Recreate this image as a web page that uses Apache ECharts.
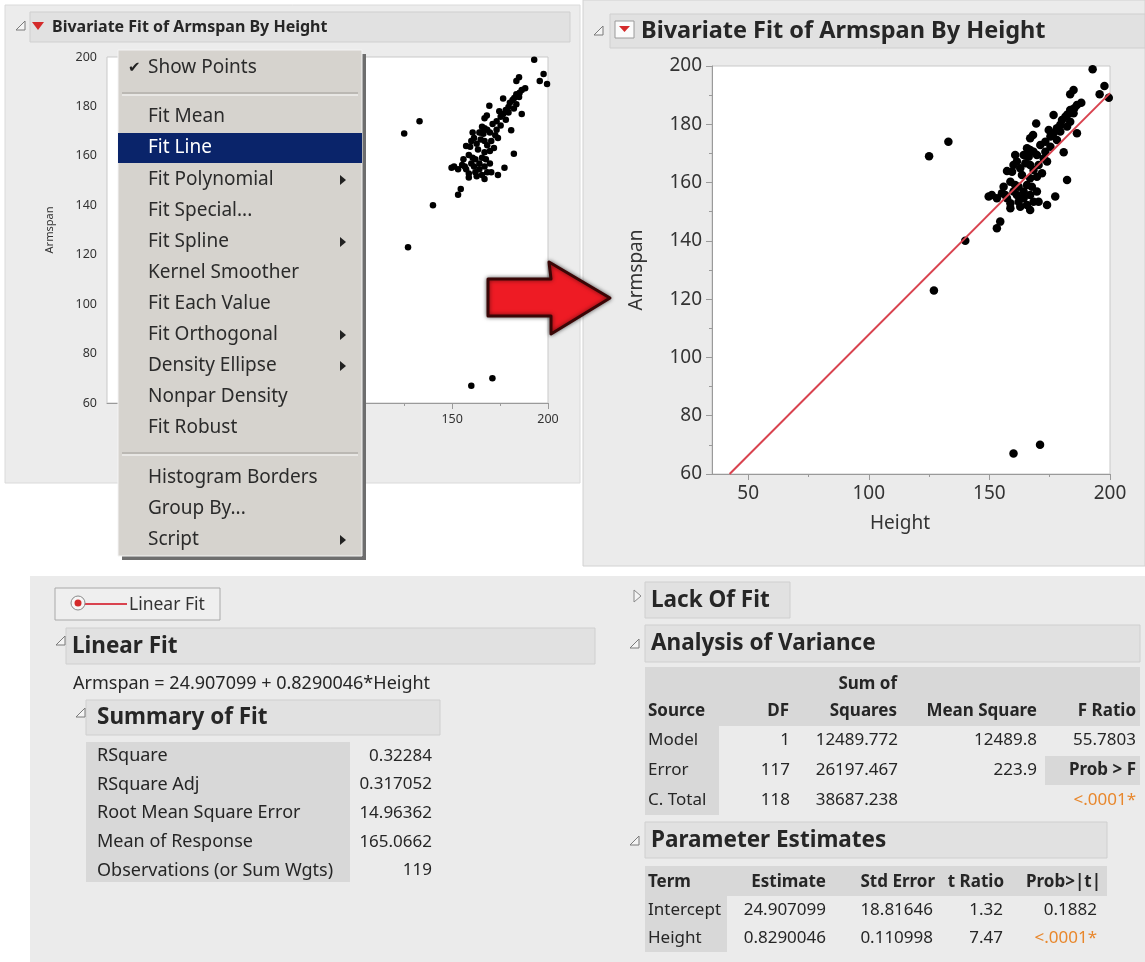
<!DOCTYPE html>
<html><head><meta charset="utf-8">
<script src="https://cdn.jsdelivr.net/npm/echarts@6/dist/echarts.min.js"></script>
<style>html,body{margin:0;padding:0;background:#fff}#c{width:1145px;height:962px}</style>
</head><body><div id="c"></div><script>
// ---- data ----
const heights = [125,133,127,140,160,171,
 192.8,184.9,183.5,197.7,195.7,199.5,188.1,185.2,182.4,176.6,183.5,179.4,169.4,176.6,168.1,186.3,173.2,165.6,171.1,180.8,
 161.4,166.3,173.9,157.3,162.8,171.8,182.2,158.7,165.6,151.0,155.2,161.4,169.7,177.3,158.7,162.8,166.9,173.9,154.5,153.1,
 160.0,164.2,166.9,168.3,169.7,163.5,166.9,160.7,155.9,164.2,166.9,168.3,160.0,162.1,158.7,165.6,170.4,157.3,153.1,149.7,
 175.3,178.0,180.1,181.5,184.9,186.3,182.2,174.6,166.9,164.9,168.3,170.4,173.2,175.3,178.0,
 159.4,164.9,162.1,167.6,164.2,156.6,169.7,172.5,160.7,166.9,179.4,183.5];
const armspans = [169,174,123,140,67,70,
 198.9,191.8,190.3,193.1,190.3,189.1,187.4,185.5,183.4,183.2,180.9,179.8,180.3,176.9,176.3,176.9,174.0,171.8,172.9,170.4,
 167.2,168.9,167.2,164.0,164.9,163.2,160.9,160.3,159.2,155.7,156.3,155.7,156.9,155.2,152.9,151.7,150.6,152.3,146.6,144.3,
 166.0,169.5,166.0,170.6,169.5,162.6,161.5,159.2,158.6,156.9,155.7,153.4,156.9,153.4,151.2,152.3,153.4,154.6,154.6,155.2,
 175.8,178.6,181.5,182.6,183.8,186.6,179.2,178.0,175.2,169.5,164.3,166.0,170.6,172.3,174.6,
 163.7,166.6,158.6,158.6,154.6,155.7,162.0,168.3,169.5,171.2,177.5,184.9];
const fitLineHeight = [42.3, 200];
const fitLineArmspan = [60, 190.7];
const rightXTicks = [50,100,150,200];
const rightXMinor = [75,125,175];
const leftXTicks = [150,200];
const leftXMinor = [0,25,50,75,100,125,175];

const menuItems = ['Show Points','Fit Mean','Fit Line','Fit Polynomial','Fit Special...','Fit Spline','Kernel Smoother','Fit Each Value','Fit Orthogonal','Density Ellipse','Nonpar Density','Fit Robust','Histogram Borders','Group By...','Script'];
const menuSubmenu = ['Fit Polynomial','Fit Spline','Fit Orthogonal','Density Ellipse','Script'];

const equationText = 'Armspan = 24.907099 + 0.8290046*Height';
const summaryLabels = ['RSquare','RSquare Adj','Root Mean Square Error','Mean of Response','Observations (or Sum Wgts)'];
const summaryValues = ['0.32284','0.317052','14.96362','165.0662','119'];

const anovaSource = ['Model','Error','C. Total'];
const anovaDF = ['1','117','118'];
const anovaSS = ['12489.772','26197.467','38687.238'];
const anovaMS = ['12489.8','223.9',''];
const anovaF = ['55.7803','Prob > F','<.0001*'];

const paramTerms = ['Intercept','Height'];
const paramEstimate = ['24.907099','0.8290046'];
const paramStdErr = ['18.81646','0.110998'];
const paramT = ['1.32','7.47'];
const paramProb = ['0.1882','<.0001*'];

// ---- helpers ----
const FONT = '"Noto Sans", "DejaVu Sans", sans-serif';
const G = [];
function rect(x,y,w,h,fill,stroke,z,extra){G.push(Object.assign({type:'rect',silent:true,z:(z==null?-10:z),shape:{x:x,y:y,width:w,height:h},style:{fill:fill,stroke:stroke||null,lineWidth:1}},extra||{}));}
function line(x1,y1,x2,y2,color,w,z){G.push({type:'line',silent:true,z:(z==null?-5:z),shape:{x1:x1,y1:y1,x2:x2,y2:y2},style:{stroke:color,lineWidth:w||1}});}
function poly(pts,fill,stroke,z,lw){G.push({type:'polygon',silent:true,z:(z==null?-5:z),shape:{points:pts},style:{fill:fill,stroke:stroke||null,lineWidth:lw||1}});}
function text(x,y,t,size,o){o=o||{};G.push({type:'text',silent:true,x:x,y:y,z:(o.z==null?-4:o.z),style:{text:t,font:(o.bold?'bold ':'')+size+'px '+(o.family||FONT),fill:o.color||'#262626',align:o.align||'left',verticalAlign:'middle',textAlign:o.align||'left',textVerticalAlign:'middle'}});}
function discOpen(x,y){poly([[x+7,y-6],[x+7,y+3],[x-2,y+3]],'#f4f4f4','#7a7a7a',-4);}
function discClosed(x,y){poly([[x-3,y-6],[x-3,y+6],[x+4,y]],'#f4f4f4','#8a8a8a',-4);}
const TS = 17;      // table text size
const HS = 22.5;    // header text size

// ---- panels ----
rect(5,5,575,478,'#ececec','#dadada');
rect(30,12,540,30,'#e1e1e1','#cfcfcf');
discOpen(18,27);
poly([[32,22],[44,22],[38,30]],'#d42a2a',null,-4);
text(52,27,'Bivariate Fit of Armspan By Height',16,{bold:true});

rect(583,0,562,566,'#ebebeb','#d2d2d2');
rect(610,14,535,34,'#e1e1e1','#cfcfcf');
discOpen(596,32);
rect(615,21,19,17,'#fbfbfb','#9a9a9a',-4);
poly([[619,26],[630,26],[624.5,32]],'#d42a2a',null,-3);
text(641,31,'Bivariate Fit of Armspan By Height',23.5,{bold:true});

rect(30,576,1115,386,'#ebebeb',null);

// legend box
rect(55,588,165,32,'#efefef','#a9a9a9',-8);
G.push({type:'circle',silent:true,z:-4,shape:{cx:78,cy:603,r:7},style:{fill:'#f6f6f6',stroke:'#8a8a8a'}});
G.push({type:'circle',silent:true,z:-3,shape:{cx:78,cy:603,r:3.5},style:{fill:'#d42a2a'}});
line(85,604,127,604,'#d9434f',2);
text(129,605,'Linear Fit',17.5,{color:'#333'});

// Linear fit header
discOpen(58,642);
rect(66,628,529,36,'#e1e1e1','#cfcfcf',-8);
text(72,647,'Linear Fit',HS,{bold:true});
text(73,684,equationText,18);

// Summary of fit
discOpen(78,714);
rect(86,700,354,35,'#e1e1e1','#cfcfcf',-8);
text(97,718,'Summary of Fit',HS,{bold:true});
rect(86,742,264,140,'#d8d8d8',null,-8);
summaryLabels.forEach(function(l,i){text(97,756+i*28.6,l,18);text(432,756+i*28.6,summaryValues[i],TS,{align:'right'});});

// Lack of fit
discClosed(637,596);
rect(645,582,145,36,'#e1e1e1','#cfcfcf',-8);
text(651,601,'Lack Of Fit',HS,{bold:true});

// ANOVA
discOpen(632,645);
rect(645,625,495,37,'#e1e1e1','#cfcfcf',-8);
text(651,644,'Analysis of Variance',HS,{bold:true});
rect(645,667,495,59,'#d8d8d8',null,-8);
rect(645,726,74,89,'#d8d8d8',null,-8);
rect(1045,756,95,29,'#d8d8d8',null,-8);
text(897,684,'Sum of',TS,{bold:true,align:'right'});
text(648,711,'Source',TS,{bold:true});
text(789,711,'DF',TS,{bold:true,align:'right'});
text(897,711,'Squares',TS,{bold:true,align:'right'});
text(1037,711,'Mean Square',TS,{bold:true,align:'right'});
text(1136,711,'F Ratio',TS,{bold:true,align:'right'});
anovaSource.forEach(function(s,i){
  var y=740+i*30;
  text(648,y,s,TS);
  text(790,y,anovaDF[i],TS,{align:'right'});
  text(898,y,anovaSS[i],TS,{align:'right'});
  if(anovaMS[i]) text(1037,y,anovaMS[i],TS,{align:'right'});
  text(1136,y,anovaF[i],TS,{align:'right',bold:i===1,color:i===2?'#e8872c':'#262626'});
});

// Parameter estimates
discOpen(632,842);
rect(645,822,462,36,'#e1e1e1','#cfcfcf',-8);
text(651,841,'Parameter Estimates',HS,{bold:true});
rect(645,866,462,30,'#d8d8d8',null,-8);
rect(645,896,82,56,'#d8d8d8',null,-8);
text(648,882,'Term',TS,{bold:true});
text(826,882,'Estimate',TS,{bold:true,align:'right'});
text(935,882,'Std Error',TS,{bold:true,align:'right'});
text(1004,882,'t Ratio',TS,{bold:true,align:'right'});
text(1101,882,'Prob>|t|',TS,{bold:true,align:'right'});
paramTerms.forEach(function(t,i){
  var y=910+i*28;
  text(648,y,t,TS);
  text(826,y,paramEstimate[i],TS,{align:'right'});
  text(933,y,paramStdErr[i],TS,{align:'right'});
  text(1003,y,paramT[i],TS,{align:'right'});
  text(1097,y,paramProb[i],TS,{align:'right',color:paramProb[i].charAt(0)==='<'?'#e8872c':'#262626'});
});

// ---- red arrow ----
G.push({type:'polygon',silent:true,z:90,shape:{points:[[488,279],[551,279],[549,262],[610,298],[551,334],[551,316],[488,316]]},
  style:{fill:'#ee1b24',stroke:'#3a0606',lineWidth:3,shadowBlur:4,shadowColor:'rgba(0,0,0,0.55)',lineJoin:'round'}});

// ---- popup menu ----
rect(122,54,244,506,'#6e6e6e',null,100);
rect(118,50,244,506,'#d6d3ce','#f4f4f4',101);
var menuY=[68,117,148,180,211,242,273,304,335,366,397,428,478,509,540];
line(122,93,358,93,'#a09d98',1,102);line(122,95,358,95,'#fbfbfb',1,102);
line(122,453,358,453,'#a09d98',1,102);line(122,455,358,455,'#fbfbfb',1,102);
rect(118,133,244,30,'#0a246a',null,102);
menuItems.forEach(function(m,i){
  var y=menuY[i];
  text(148,y,m,19,{z:103,color:m==='Fit Line'?'#ffffff':'#2b2b2b'});
  if(menuSubmenu.indexOf(m)>=0) poly([[340,y-5],[340,y+5],[346,y]],'#222',null,103);
});
text(128,68,'✔',15,{z:103,family:'"DejaVu Sans", sans-serif',color:'#222'});

// ---- chart ----
const ptsData = heights.map(function(h,i){return [h,armspans[i]];});
const fitData = fitLineHeight.map(function(h,i){return [h,fitLineArmspan[i]];});
const axisCol = '#9a9a9a';
function mkX(grid,min,ticks,minor,fs){
  return [{
    gridIndex:grid,type:'value',min:min,max:200,position:'bottom',
    axisLine:{show:true,onZero:false,lineStyle:{color:axisCol}},
    axisTick:{show:true,length:6,customValues:ticks,lineStyle:{color:axisCol}},
    axisLabel:{customValues:ticks,fontSize:fs,color:'#333',fontFamily:'"Noto Sans", sans-serif',margin:10},
    splitLine:{show:false}
  },{
    gridIndex:grid,type:'value',min:min,max:200,position:'bottom',
    axisLine:{show:false,onZero:false},
    axisTick:{show:true,length:3,customValues:minor,lineStyle:{color:axisCol}},
    axisLabel:{show:false},splitLine:{show:false}
  }];
}
var xAxes = mkX(0,-30,leftXTicks,leftXMinor,12.5).concat(mkX(1,35,rightXTicks,rightXMinor,19));
xAxes[2].name='Height';xAxes[2].nameLocation='middle';xAxes[2].nameGap=40;
xAxes[2].nameTextStyle={fontSize:19,color:'#333',fontFamily:'"Noto Sans", sans-serif',padding:[0,22,0,0]};
function mkY(grid,fs,gap,nfs){
  return {gridIndex:grid,type:'value',min:60,max:200,interval:20,
    name:'Armspan',nameLocation:'middle',nameGap:gap,nameRotate:90,
    nameTextStyle:{fontSize:nfs,color:'#333',fontFamily:'"Noto Sans", sans-serif'},
    axisLine:{show:true,lineStyle:{color:axisCol}},
    axisTick:{show:true,length:6,lineStyle:{color:axisCol}},
    minorTick:{show:true,splitNumber:2,length:3,lineStyle:{color:axisCol}},
    axisLabel:{fontSize:fs,color:'#333',fontFamily:'"Noto Sans", sans-serif',margin:10},
    splitLine:{show:false}};
}
const chart = echarts.init(document.getElementById('c'),null,{renderer:'canvas'});
chart.setOption({
  backgroundColor:'#ffffff',
  animation:false,
  grid:[
    {left:107,top:57,width:441,height:346,show:true,backgroundColor:'#ffffff',borderColor:'#c9c9c9',borderWidth:1},
    {left:712,top:66,width:398,height:408,show:true,backgroundColor:'#ffffff',borderColor:'#c9c9c9',borderWidth:1}
  ],
  xAxis:xAxes,
  yAxis:[mkY(0,12.5,52,11),mkY(1,19,66,19)],
  series:[
    {type:'scatter',xAxisIndex:0,yAxisIndex:0,data:ptsData,symbolSize:6.5,itemStyle:{color:'#000',opacity:1},z:3},
    {type:'scatter',xAxisIndex:2,yAxisIndex:1,data:ptsData,symbolSize:8.5,itemStyle:{color:'#000',opacity:1},z:3},
    {type:'line',xAxisIndex:2,yAxisIndex:1,data:fitData,symbol:'none',lineStyle:{color:'#d9434f',width:2},z:4}
  ],
  graphic:{elements:G}
});
</script></body></html>
